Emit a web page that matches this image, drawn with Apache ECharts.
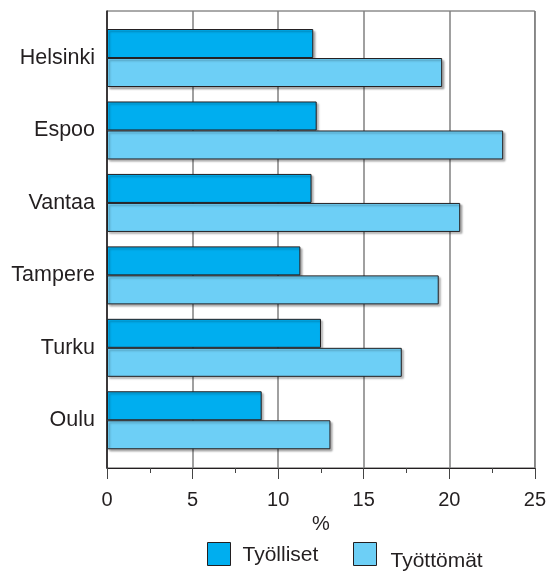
<!DOCTYPE html>
<html>
<head>
<meta charset="utf-8">
<script src="https://cdn.jsdelivr.net/npm/echarts@6/dist/echarts.min.js"></script>
<style>html,body{margin:0;padding:0;background:#fff;}#c{width:549px;height:571px;}</style>
</head>
<body>
<div id="c"></div>
<script>
var categories = ['Helsinki', 'Espoo', 'Vantaa', 'Tampere', 'Turku', 'Oulu'];
var tyolliset = [12.0, 12.2, 11.9, 11.25, 12.45, 9.0];
var tyottomat = [19.5, 23.05, 20.55, 19.3, 17.15, 13.0];
var seriesNames = ['Työlliset', 'Työttömät'];
var axisName = '%';

var FONT = '"Liberation Sans", Arial, Helvetica, sans-serif';
var TXT = '#231f20';
var barShadow = {borderColor: '#231f20', borderWidth: 1, shadowColor: 'rgba(0,0,0,0.3)', shadowBlur: 2, shadowOffsetX: 2, shadowOffsetY: 2};
var legendItem = {borderColor: '#231f20', borderWidth: 1, shadowBlur: 0, shadowOffsetX: 0, shadowOffsetY: 0};

var chart = echarts.init(document.getElementById('c'), null, {renderer: 'canvas'});
chart.setOption({
  animation: false,
  textStyle: {fontFamily: FONT, color: TXT},
  grid: [
    {left: 107, right: 12.3, top: 21.8, bottom: 114.5},
    {left: 107, right: 12.3, top: 11, bottom: 103, show: true, borderColor: '#555', borderWidth: 1, backgroundColor: 'transparent'}
  ],
  xAxis: [
    {gridIndex: 0, type: 'value', min: 0, max: 25, show: false},
    {gridIndex: 1, type: 'value', min: 0, max: 25, interval: 5,
      axisLine: {show: true, lineStyle: {color: '#231f20', width: 1}},
      axisTick: {show: true, length: 11, lineStyle: {color: '#444', width: 1}},
      minorTick: {show: true, splitNumber: 2, length: 5, lineStyle: {color: '#444', width: 1}},
      splitLine: {show: true, lineStyle: {color: '#808080', width: 1.5}},
      axisLabel: {fontSize: 20, color: TXT, margin: 22, fontFamily: FONT},
      name: axisName, nameLocation: 'middle', nameGap: 39,
      nameTextStyle: {fontSize: 20, color: TXT, fontFamily: FONT}
    }
  ],
  yAxis: [
    {gridIndex: 0, type: 'category', data: categories, inverse: true,
      axisLine: {show: false}, axisTick: {show: false}, splitLine: {show: false},
      axisLabel: {fontSize: 21.5, color: TXT, margin: 12, fontFamily: FONT}
    },
    {gridIndex: 1, type: 'value', min: 0, max: 1,
      axisLine: {show: true, lineStyle: {color: '#231f20', width: 1.5}},
      axisTick: {show: false}, axisLabel: {show: false}, splitLine: {show: false}
    }
  ],
  legend: [
    {data: [seriesNames[0]], left: 207, top: 542, padding: 0, icon: 'rect', itemWidth: 23, itemHeight: 23,
      formatter: '{a|{name}}',
      textStyle: {fontSize: 21, color: TXT, fontFamily: FONT, rich: {a: {fontSize: 21, fontFamily: FONT, color: TXT, padding: [2, 0, 0, 7]}}},
      itemStyle: legendItem},
    {data: [seriesNames[1]], left: 353, top: 542, padding: 0, icon: 'rect', itemWidth: 23, itemHeight: 23,
      formatter: '{a|{name}}',
      textStyle: {fontSize: 21, color: TXT, fontFamily: FONT, rich: {a: {fontSize: 21, fontFamily: FONT, color: TXT, padding: [14, 0, 0, 9]}}},
      itemStyle: legendItem}
  ],
  series: [
    {name: seriesNames[0], type: 'bar', xAxisIndex: 0, yAxisIndex: 0, data: tyolliset,
      barWidth: 29, barGap: '0%', itemStyle: Object.assign({color: '#00aeef'}, barShadow)},
    {name: seriesNames[1], type: 'bar', xAxisIndex: 0, yAxisIndex: 0, data: tyottomat,
      barWidth: 29, barGap: '0%', itemStyle: Object.assign({color: '#6dcff6'}, barShadow)}
  ]
});
</script>
</body>
</html>
